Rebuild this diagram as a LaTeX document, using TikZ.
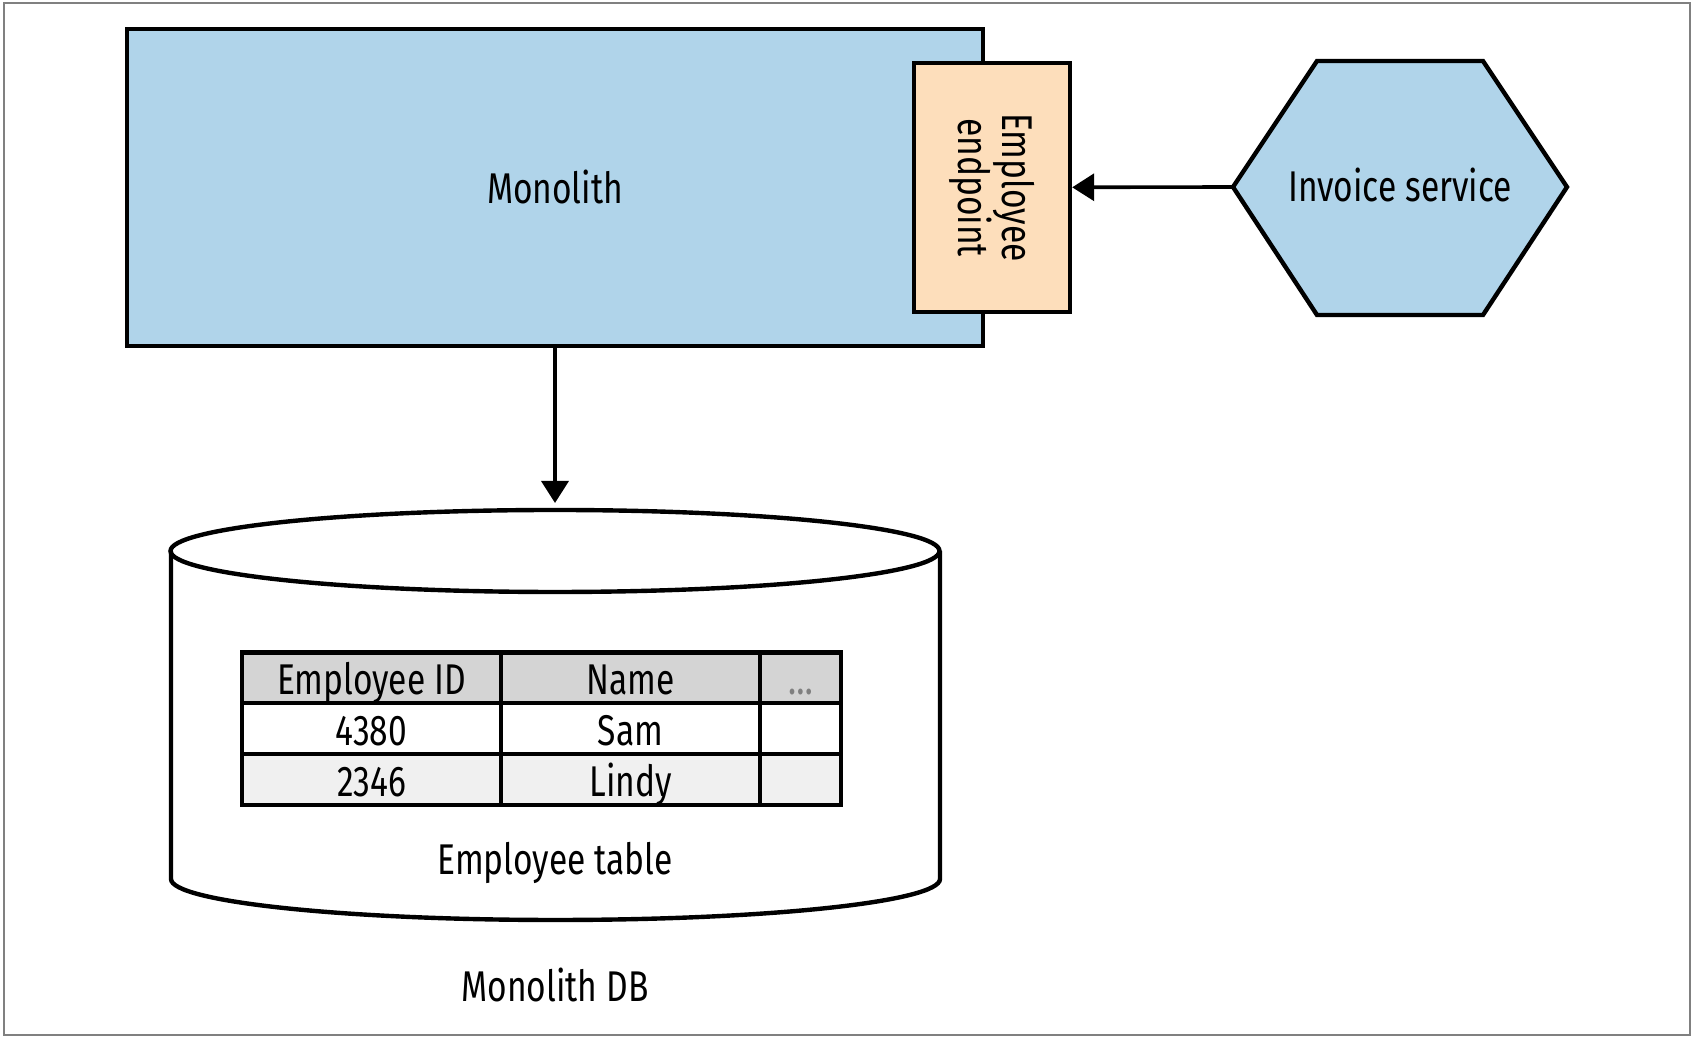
\documentclass[tikz,border=0pt]{standalone}
\usepackage{fontspec}
\setmainfont[FakeStretch=0.78]{Fira Sans}
\usetikzlibrary{arrows.meta}

\definecolor{monoblue}{HTML}{B0D4EA}
\definecolor{endpeach}{HTML}{FDDEBB}
\definecolor{hdgray}{HTML}{D4D4D4}
\definecolor{rowgray}{HTML}{F0F0F0}

\begin{document}
\begin{tikzpicture}[x=0.5pt, y=0.5pt,
    every node/.style={font=\fontsize{21.5}{25}\selectfont},
    box/.style={draw, line width=2.2pt, inner sep=0pt},
    cell/.style={draw, line width=2.2pt, inner sep=0pt, minimum height=25.3pt,
      text height=17pt, text depth=0pt},
    conn/.style={line width=1.8pt, -{Triangle[length=11pt,width=13.5pt]}}]
  \useasboundingbox (0,0) rectangle (1694,1038);
  \draw[gray, line width=0.8pt] (4,3) rectangle (1690,1035);

  \node[box, fill=monoblue, minimum width=427.75pt, minimum height=158.5pt] (mono) at (555,850.5) {Monolith};
  \node[box, fill=endpeach, rotate=-90, minimum width=124.5pt, minimum height=78pt,
    align=center, font=\fontsize{21.5}{18.5}\selectfont] (ep) at (992,850.5) {Employee\\endpoint};

  \draw[line width=2.2pt, fill=monoblue] (1233,851) -- (1317,977) -- (1483,977) -- (1567,851)
    -- (1483,723) -- (1317,723) -- cycle;
  \node (inv) at (1400,853) {Invoice service};
  \coordinate (invw) at (1233,851);
  \draw[conn] (invw) -- (ep);

  \draw[line width=2.2pt] (171,487) -- (171,159) arc[start angle=180, end angle=360,
    x radius=384.5, y radius=41] -- (940,487);
  \draw[line width=2.2pt] (555,487) ellipse [x radius=384.5, y radius=41];
  \coordinate (dbtop) at (555,535);
  \draw[conn] (mono) -- (dbtop);

  \node[cell, fill=hdgray, minimum width=129.5pt] (hid) at (371.5,360) {Employee ID};
  \node[cell, fill=hdgray, minimum width=129.5pt] (hname) at (630.5,360) {Name};
  \node[cell, fill=hdgray, minimum width=40.5pt, text=gray] (hmore) at (800.5,360) {\dots};
  \node[cell, fill=white, minimum width=129.5pt] (id1) at (371.5,309.5) {4380};
  \node[cell, fill=white, minimum width=129.5pt] (name1) at (630.5,309.5) {Sam};
  \node[cell, fill=white, minimum width=40.5pt] (more1) at (800.5,309.5) {};
  \node[cell, fill=rowgray, minimum width=129.5pt] (id2) at (371.5,258.5) {2346};
  \node[cell, fill=rowgray, minimum width=129.5pt] (name2) at (630.5,258.5) {Lindy};
  \node[cell, fill=rowgray, minimum width=40.5pt] (more2) at (800.5,258.5) {};

  \node (tbl) at (555,175) {Employee table};
  \node (dblabel) at (555,53) {Monolith DB};
\end{tikzpicture}
\end{document}
